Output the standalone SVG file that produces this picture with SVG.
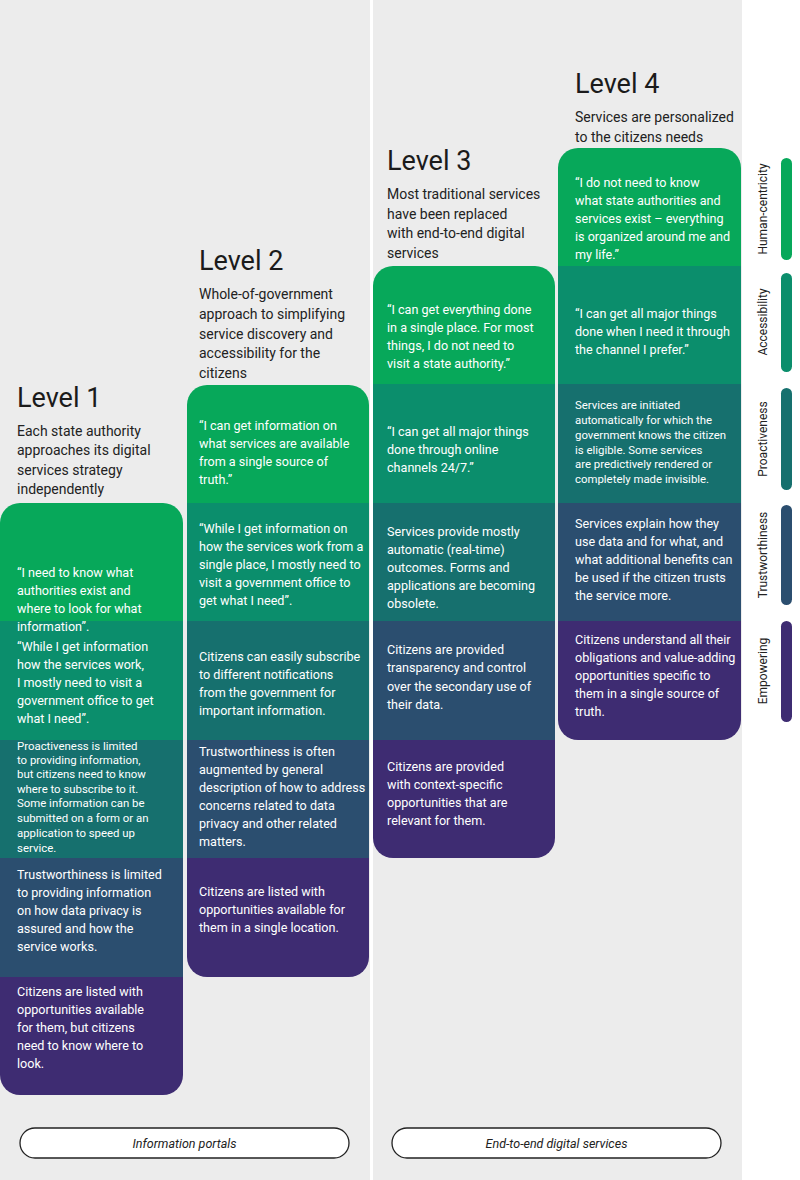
<svg xmlns="http://www.w3.org/2000/svg" width="800" height="1180" viewBox="0 0 800 1180">
<style>
text{font-family:Roboto,"Liberation Sans",sans-serif}
.h{font-size:27px;fill:#1b1b1b}
.d{font-size:14px;fill:#222}
.t{font-size:12.6px;fill:#fff}
.s{font-size:11.4px;fill:#fff}
.l{font-size:12px;fill:#222}
.p{font-size:12.5px;font-style:italic;fill:#222}
.c1{fill:#07a85a}.c2{fill:#0b8e6c}.c3{fill:#16706e}.c4{fill:#2b4e6f}.c5{fill:#3e2c72}
</style>
<defs>
<clipPath id="k1"><rect x="0" y="503" width="183" height="592" rx="20"/></clipPath>
<clipPath id="k2"><rect x="187" y="385" width="182" height="592" rx="20"/></clipPath>
<clipPath id="k3"><rect x="373" y="266" width="182" height="592" rx="20"/></clipPath>
<clipPath id="k4"><rect x="558" y="148" width="183" height="592" rx="20"/></clipPath>
</defs>
<rect width="800" height="1180" fill="#fff"/>
<rect x="0" y="0" width="370" height="1180" fill="#ececec"/>
<rect x="373" y="0" width="369" height="1180" fill="#ececec"/>

<g id="level1">
<text class="h" x="17" y="407">Level 1</text>
<text class="d" x="17" y="436">Each state authority</text>
<text class="d" x="17" y="455">approaches its digital</text>
<text class="d" x="17" y="475">services strategy</text>
<text class="d" x="17" y="494">independently</text>
<g clip-path="url(#k1)">
<rect class="c1" x="0" y="503" width="183" height="118"/>
<rect class="c2" x="0" y="621" width="183" height="119"/>
<rect class="c3" x="0" y="740" width="183" height="118"/>
<rect class="c4" x="0" y="858" width="183" height="119"/>
<rect class="c5" x="0" y="977" width="183" height="118"/>
</g>
<text class="t" x="17" y="577">“I need to know what</text>
<text class="t" x="17" y="595">authorities exist and</text>
<text class="t" x="17" y="613">where to look for what</text>
<text class="t" x="17" y="631">information”.</text>
<text class="t" x="17" y="651">“While I get information</text>
<text class="t" x="17" y="669">how the services work,</text>
<text class="t" x="17" y="687">I mostly need to visit a</text>
<text class="t" x="17" y="705">government office to get</text>
<text class="t" x="17" y="723">what I need”.</text>
<text class="s" x="17" y="750">Proactiveness is limited</text>
<text class="s" x="17" y="764">to providing information,</text>
<text class="s" x="17" y="778">but citizens need to know</text>
<text class="s" x="17" y="793">where to subscribe to it.</text>
<text class="s" x="17" y="807">Some information can be</text>
<text class="s" x="17" y="822">submitted on a form or an</text>
<text class="s" x="17" y="837">application to speed up</text>
<text class="s" x="17" y="852">service.</text>
<text class="t" x="17" y="879">Trustworthiness is limited</text>
<text class="t" x="17" y="897">to providing information</text>
<text class="t" x="17" y="915">on how data privacy is</text>
<text class="t" x="17" y="933">assured and how the</text>
<text class="t" x="17" y="951">service works.</text>
<text class="t" x="17" y="996">Citizens are listed with</text>
<text class="t" x="17" y="1014">opportunities available</text>
<text class="t" x="17" y="1032">for them, but citizens</text>
<text class="t" x="17" y="1050">need to know where to</text>
<text class="t" x="17" y="1068">look.</text>
</g>

<g id="level2">
<text class="h" x="199" y="270">Level 2</text>
<text class="d" x="199" y="299">Whole-of-government</text>
<text class="d" x="199" y="319">approach to simplifying</text>
<text class="d" x="199" y="339">service discovery and</text>
<text class="d" x="199" y="358">accessibility for the</text>
<text class="d" x="199" y="378">citizens</text>
<g clip-path="url(#k2)">
<rect class="c1" x="187" y="385" width="182" height="118"/>
<rect class="c2" x="187" y="503" width="182" height="118"/>
<rect class="c3" x="187" y="621" width="182" height="119"/>
<rect class="c4" x="187" y="740" width="182" height="118"/>
<rect class="c5" x="187" y="858" width="182" height="119"/>
</g>
<text class="t" x="199" y="430">“I can get information on</text>
<text class="t" x="199" y="448">what services are available</text>
<text class="t" x="199" y="466">from a single source of</text>
<text class="t" x="199" y="484">truth.”</text>
<text class="t" x="199" y="533">“While I get information on</text>
<text class="t" x="199" y="551">how the services work from a</text>
<text class="t" x="199" y="569">single place, I mostly need to</text>
<text class="t" x="199" y="587">visit a government office to</text>
<text class="t" x="199" y="605">get what I need”.</text>
<text class="t" x="199" y="661">Citizens can easily subscribe</text>
<text class="t" x="199" y="679">to different notifications</text>
<text class="t" x="199" y="697">from the government for</text>
<text class="t" x="199" y="715">important information.</text>
<text class="t" x="199" y="756">Trustworthiness is often</text>
<text class="t" x="199" y="774">augmented by general</text>
<text class="t" x="199" y="792">description of how to address</text>
<text class="t" x="199" y="810">concerns related to data</text>
<text class="t" x="199" y="828">privacy and other related</text>
<text class="t" x="199" y="846">matters.</text>
<text class="t" x="199" y="896">Citizens are listed with</text>
<text class="t" x="199" y="914">opportunities available for</text>
<text class="t" x="199" y="932">them in a single location.</text>
</g>

<g id="level3">
<text class="h" x="387" y="170">Level 3</text>
<text class="d" x="387" y="199">Most traditional services</text>
<text class="d" x="387" y="219">have been replaced</text>
<text class="d" x="387" y="238">with end-to-end digital</text>
<text class="d" x="387" y="258">services</text>
<g clip-path="url(#k3)">
<rect class="c1" x="373" y="266" width="182" height="118"/>
<rect class="c2" x="373" y="384" width="182" height="119"/>
<rect class="c3" x="373" y="503" width="182" height="118"/>
<rect class="c4" x="373" y="621" width="182" height="119"/>
<rect class="c5" x="373" y="740" width="182" height="118"/>
</g>
<text class="t" x="387" y="314">“I can get everything done</text>
<text class="t" x="387" y="332">in  a single place. For most</text>
<text class="t" x="387" y="350">things, I do not need to</text>
<text class="t" x="387" y="368">visit a state authority.”</text>
<text class="t" x="387" y="436">“I can get all major things</text>
<text class="t" x="387" y="454">done through online</text>
<text class="t" x="387" y="472">channels 24/7.”</text>
<text class="t" x="387" y="536">Services provide mostly</text>
<text class="t" x="387" y="554">automatic (real-time)</text>
<text class="t" x="387" y="572">outcomes. Forms and</text>
<text class="t" x="387" y="590">applications are becoming</text>
<text class="t" x="387" y="608">obsolete.</text>
<text class="t" x="387" y="654">Citizens are provided</text>
<text class="t" x="387" y="672">transparency and control</text>
<text class="t" x="387" y="691">over the secondary use of</text>
<text class="t" x="387" y="709">their data.</text>
<text class="t" x="387" y="771">Citizens are provided</text>
<text class="t" x="387" y="789">with context-specific</text>
<text class="t" x="387" y="807">opportunities that are</text>
<text class="t" x="387" y="825">relevant for them.</text>
</g>

<g id="level4">
<text class="h" x="575" y="93">Level 4</text>
<text class="d" x="575" y="122">Services are personalized</text>
<text class="d" x="575" y="142">to the citizens needs</text>
<g clip-path="url(#k4)">
<rect class="c1" x="558" y="148" width="183" height="118"/>
<rect class="c2" x="558" y="266" width="183" height="118"/>
<rect class="c3" x="558" y="384" width="183" height="119"/>
<rect class="c4" x="558" y="503" width="183" height="118"/>
<rect class="c5" x="558" y="621" width="183" height="119"/>
</g>
<text class="t" x="575" y="187">“I do not need to know</text>
<text class="t" x="575" y="205">what state authorities and</text>
<text class="t" x="575" y="223">services exist – everything</text>
<text class="t" x="575" y="241">is organized around me and</text>
<text class="t" x="575" y="259">my life.”</text>
<text class="t" x="575" y="318">“I can get all major things</text>
<text class="t" x="575" y="336">done when I need it through</text>
<text class="t" x="575" y="354">the channel I prefer.”</text>
<text class="s" x="575" y="409">Services are initiated</text>
<text class="s" x="575" y="424">automatically for which the</text>
<text class="s" x="575" y="439">government knows the citizen</text>
<text class="s" x="575" y="454">is eligible. Some services</text>
<text class="s" x="575" y="468">are predictively rendered or</text>
<text class="s" x="575" y="483">completely made invisible.</text>
<text class="t" x="575" y="528">Services explain how they</text>
<text class="t" x="575" y="546">use data and for what, and</text>
<text class="t" x="575" y="564">what additional benefits can</text>
<text class="t" x="575" y="582">be used if the citizen trusts</text>
<text class="t" x="575" y="600">the service more.</text>
<text class="t" x="575" y="644">Citizens understand all their</text>
<text class="t" x="575" y="662">obligations and value-adding</text>
<text class="t" x="575" y="680">opportunities specific to</text>
<text class="t" x="575" y="698">them in a single source of</text>
<text class="t" x="575" y="716">truth.</text>
</g>

<g id="legend">
<rect class="c1" x="781" y="158" width="11" height="102" rx="5.5"/>
<rect class="c2" x="781" y="273" width="11" height="99" rx="5.5"/>
<rect class="c3" x="781" y="388" width="11" height="102" rx="5.5"/>
<rect class="c4" x="781" y="505" width="11" height="100" rx="5.5"/>
<rect class="c5" x="781" y="621" width="11" height="101" rx="5.5"/>
<text class="l" transform="translate(767,209) rotate(-90)" text-anchor="middle">Human-centricity</text>
<text class="l" transform="translate(767,322) rotate(-90)" text-anchor="middle">Accessibility</text>
<text class="l" transform="translate(767,439) rotate(-90)" text-anchor="middle">Proactiveness</text>
<text class="l" transform="translate(767,555) rotate(-90)" text-anchor="middle">Trustworthiness</text>
<text class="l" transform="translate(767,671) rotate(-90)" text-anchor="middle">Empowering</text>
</g>

<g id="pill1">
<rect x="20" y="1128" width="329" height="30" rx="15" fill="#fff" stroke="#222" stroke-width="1.3"/>
<text class="p" x="184.5" y="1148" text-anchor="middle">Information portals</text>
</g>
<g id="pill2">
<rect x="392" y="1128" width="329" height="30" rx="15" fill="#fff" stroke="#222" stroke-width="1.3"/>
<text class="p" x="556.5" y="1148" text-anchor="middle">End-to-end digital services</text>
</g>
</svg>
